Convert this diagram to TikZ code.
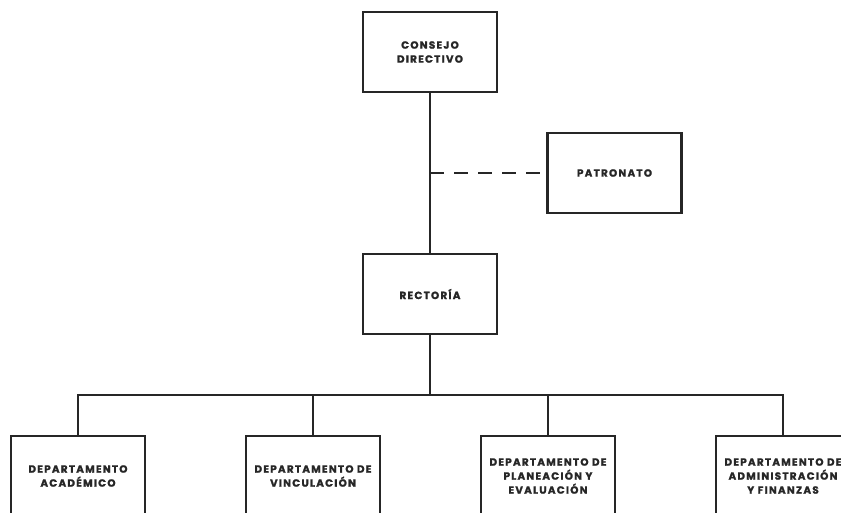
\documentclass[tikz,border=0pt]{standalone}
\usepackage{fontspec}
\setmainfont{Poppins}
\newfontfamily\orgfont{Poppins}[LetterSpace=12,BoldFeatures={FakeBold=1.5}]
\begin{document}
\begin{tikzpicture}[x=1pt,y=-1pt,
  orgbox/.style={draw=black!85, line width=2.6pt, minimum width=134pt, minimum height=80pt, inner sep=0pt, align=center, font=\orgfont\bfseries\fontsize{10.4}{14}\selectfont, text=black!85},
  link/.style={draw=black!85, line width=2.4pt},
  dashlink/.style={link, dash pattern=on 14pt off 10pt}]
\useasboundingbox (0,0) rectangle (841,512);
\clip (0,0) rectangle (841,512);
\node[orgbox] (cd) at (430,52) {CONSEJO\\DIRECTIVO};
\node[orgbox] (pat) at (614.5,173) {PATRONATO};
\node[orgbox] (rec) at (430,294) {RECTORÍA};
\node[orgbox] (d1) at (78,476) {DEPARTAMENTO\\ACADÉMICO};
\node[orgbox] (d2) at (313,476) {DEPARTAMENTO DE\\VINCULACIÓN};
\node[orgbox] (d3) at (548,476) {DEPARTAMENTO DE\\PLANEACIÓN Y\\EVALUACIÓN};
\node[orgbox] (d4) at (783,476) {DEPARTAMENTO DE\\ADMINISTRACIÓN\\Y FINANZAS};
\coordinate (bus) at (430,395);
\coordinate (tap) at (430,173);
\draw[link] (cd.south) -- (rec.north);
\draw[dashlink] (tap) -- (pat.west);
\draw[link] (rec.south) -- (bus);
\draw[link] (d1.north) |- (bus) -| (d4.north);
\draw[link] (d2.north) -- (d2.north |- bus);
\draw[link] (d3.north) -- (d3.north |- bus);
\end{tikzpicture}
\end{document}
